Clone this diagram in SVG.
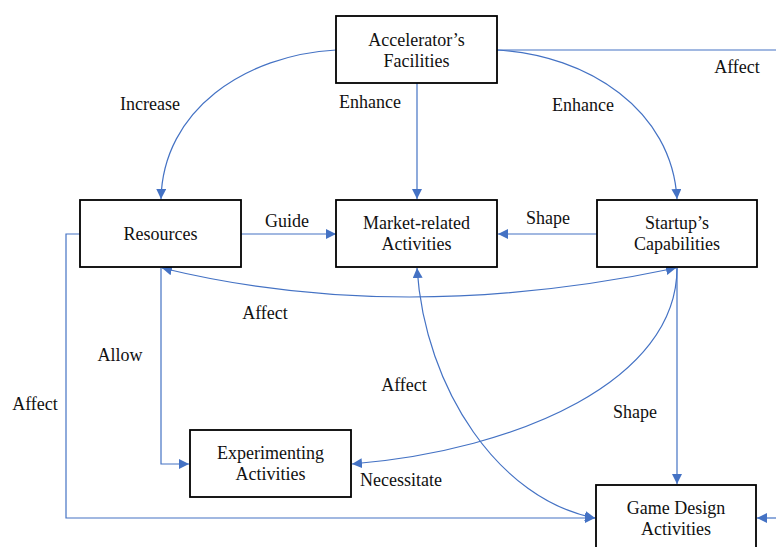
<svg xmlns="http://www.w3.org/2000/svg" width="776" height="547" viewBox="0 0 776 547" font-family="Liberation Serif, Times New Roman, serif">
<style>
.box{fill:#fff;stroke:#000;stroke-width:1.8}
.t{font-size:18px;fill:#111;text-anchor:middle}
.c{fill:none;stroke:#4472C4;stroke-width:1.2}
</style>
<defs>
<marker id="a" viewBox="0 0 10 10" refX="10" refY="5" markerWidth="10" markerHeight="10" markerUnits="userSpaceOnUse" orient="auto-start-reverse">
<path d="M0,0L10,5L0,10z" fill="#4472C4"/>
</marker>
</defs>
<rect width="776" height="547" fill="#fff"/>
<g id="connectors">
<path class="c" d="M336,50 C245,55 163,110 161,199" marker-end="url(#a)"/>
<path class="c" d="M417,83 L417,199" marker-end="url(#a)"/>
<path class="c" d="M497,50 C588,55 672,110 677,199" marker-end="url(#a)"/>
<path class="c" d="M497,50 L776,50"/>
<path class="c" d="M776,518 L757,518" marker-end="url(#a)"/>
<path class="c" d="M241,234 L336,234" marker-end="url(#a)"/>
<path class="c" d="M597,234 L498,234" marker-end="url(#a)"/>
<path class="c" d="M80,234 L66,234 L66,518 L595,518" marker-end="url(#a)"/>
<path class="c" d="M162,268 Q400,326 676,268" marker-start="url(#a)" marker-end="url(#a)"/>
<path class="c" d="M161,268 L161,464 L189,464" marker-end="url(#a)"/>
<path class="c" d="M677,268 L677,484" marker-end="url(#a)"/>
<path class="c" d="M677,268 C677,380 520,450 352,464" marker-end="url(#a)"/>
<path class="c" d="M417,268 C425,390 500,500 595,518" marker-start="url(#a)" marker-end="url(#a)"/>
</g>
<g id="labels">
<text class="t" x="150" y="110">Increase</text>
<text class="t" x="370" y="108">Enhance</text>
<text class="t" x="583" y="111">Enhance</text>
<text class="t" x="737" y="73">Affect</text>
<text class="t" x="287" y="227">Guide</text>
<text class="t" x="548" y="224">Shape</text>
<text class="t" x="265" y="319">Affect</text>
<text class="t" x="120" y="361">Allow</text>
<text class="t" x="35" y="410">Affect</text>
<text class="t" x="404" y="391">Affect</text>
<text class="t" x="635" y="418">Shape</text>
<text class="t" x="401" y="486">Necessitate</text>
</g>
<g id="accelerator">
<rect class="box" x="336" y="16" width="161" height="67"/>
<text class="t" x="416.5" y="46">Accelerator’s</text>
<text class="t" x="416.5" y="67">Facilities</text>
</g>
<g id="resources">
<rect class="box" x="80" y="200" width="161" height="67"/>
<text class="t" x="160.5" y="240">Resources</text>
</g>
<g id="market">
<rect class="box" x="336" y="200" width="161" height="67"/>
<text class="t" x="416.5" y="229">Market-related</text>
<text class="t" x="416.5" y="250">Activities</text>
</g>
<g id="startup">
<rect class="box" x="597" y="200" width="160" height="67"/>
<text class="t" x="677" y="229">Startup’s</text>
<text class="t" x="677" y="250">Capabilities</text>
</g>
<g id="experimenting">
<rect class="box" x="190" y="430" width="161" height="67"/>
<text class="t" x="270.5" y="459">Experimenting</text>
<text class="t" x="270.5" y="480">Activities</text>
</g>
<g id="gamedesign">
<rect class="box" x="596" y="485" width="160" height="70"/>
<text class="t" x="676" y="514">Game Design</text>
<text class="t" x="676" y="535">Activities</text>
</g>
</svg>
